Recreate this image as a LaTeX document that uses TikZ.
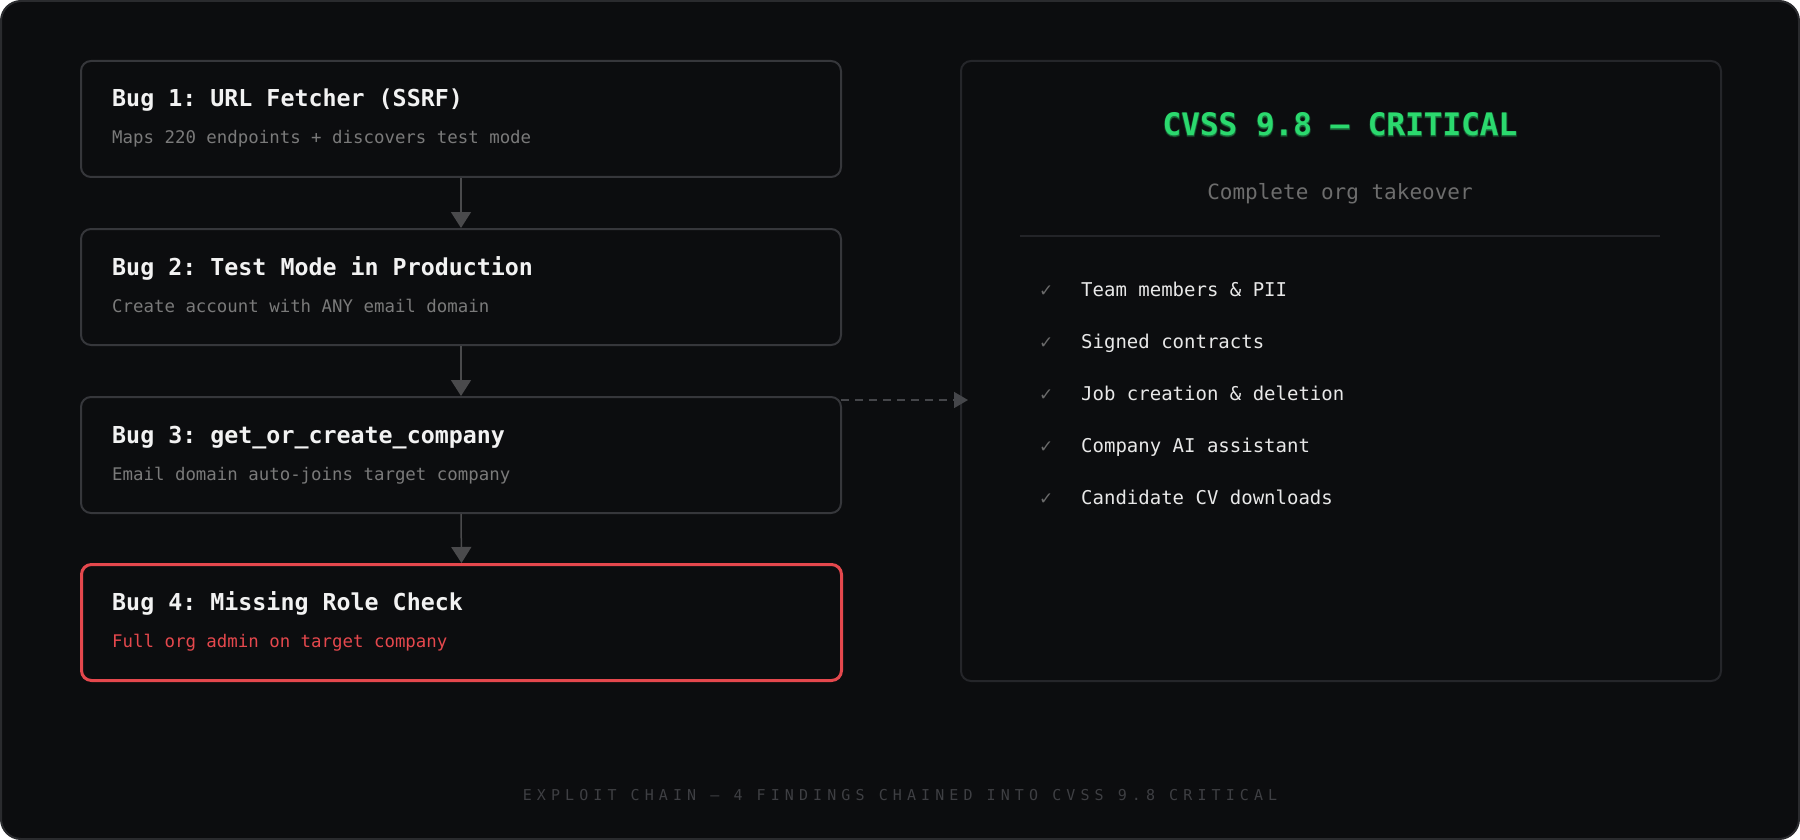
\documentclass[tikz,border=0pt]{standalone}
\usepackage{fontspec}
\setmonofont{DejaVu Sans Mono}
\newfontfamily\symfont{DejaVu Sans}
\usetikzlibrary{arrows.meta}
\definecolor{bgc}{HTML}{0C0D0F}
\definecolor{framec}{HTML}{2A2B2E}
\definecolor{boxc}{HTML}{36373B}
\definecolor{panelc}{HTML}{25262A}
\definecolor{titlec}{HTML}{F2F2F2}
\definecolor{subc}{HTML}{7A7A7A}
\definecolor{redc}{HTML}{E5484D}
\definecolor{greenc}{HTML}{2BD96E}
\definecolor{itemc}{HTML}{E8E8E8}
\definecolor{checkc}{HTML}{6A6A6A}
\definecolor{arrowc}{HTML}{4A4A4C}
\definecolor{dashc}{HTML}{45464A}
\definecolor{footc}{HTML}{3E3F43}
\definecolor{sepc}{HTML}{232428}
\begin{document}
\begin{tikzpicture}[x=1pt,y=-1pt,
  bugbox/.style={draw=boxc, line width=2pt, fill=bgc, rounded corners=10pt, minimum width=760pt, minimum height=116pt, anchor=north west, inner sep=0pt},
  critbox/.style={bugbox, draw=redc, line width=3pt},
  bugtitle/.style={anchor=base west, inner sep=0pt, text=titlec, font=\ttfamily\bfseries\fontsize{23.3}{28}\selectfont},
  bugsub/.style={anchor=base west, inner sep=0pt, text=subc, font=\ttfamily\fontsize{17.4}{20}\selectfont},
  itemtxt/.style={anchor=base west, inner sep=0pt, text=itemc, font=\ttfamily\fontsize{19}{23}\selectfont},
  checktxt/.style={anchor=base west, inner sep=0pt, text=checkc, font=\symfont\fontsize{17}{20}\selectfont},
  chainarrow/.style={draw=arrowc, line width=1.5pt, -{Triangle[width=20pt,length=16pt]}},
  crittitle/.style={anchor=base, inner sep=0pt, text=greenc, font=\ttfamily\bfseries\fontsize{31}{36}\selectfont}
]
\useasboundingbox (0,0) rectangle (1800,840);
\fill[white] (0,0) rectangle (1800,840);
\draw[draw=framec, fill=bgc, line width=2pt, rounded corners=20pt] (1,1) rectangle (1799,839);

% bug boxes
\node[bugbox] (b1) at (80,60) {};
\node[bugbox] (b2) at (80,228) {};
\node[bugbox] (b3) at (80,396) {};
\node[critbox] (b4) at (80,563) {};

\node[bugtitle] (t1) at (112,107) {Bug 1: URL Fetcher (SSRF)};
\node[bugsub] (s1) at (112,144) {Maps 220 endpoints + discovers test mode};
\node[bugtitle] (t2) at (112,275) {Bug 2: Test Mode in Production};
\node[bugsub] (s2) at (112,312) {Create account with ANY email domain};
\node[bugtitle] (t3) at (112,443) {Bug 3: get\_or\_create\_company};
\node[bugsub] (s3) at (112,480) {Email domain auto-joins target company};
\node[bugtitle] (t4) at (112,610) {Bug 4: Missing Role Check};
\node[bugsub, text=redc] (s4) at (112,647) {Full org admin on target company};

\draw[chainarrow] (b1.south) -- (b2.north);
\draw[chainarrow] (b2.south) -- (b3.north);
\draw[chainarrow] (b3.south) -- (b4.north);

% result panel
\node[draw=panelc, line width=2pt, fill=bgc, rounded corners=10pt, minimum width=760pt, minimum height=620pt, anchor=north west, inner sep=0pt] (panel) at (960,60) {};

\coordinate (dstart) at (841,400);
\coordinate (dend) at (968,400);
\draw[draw=dashc, line width=1.5pt, dash pattern=on 8pt off 6pt, -{Triangle[width=16pt,length=14pt,fill=dashc]}] (dstart) -- (dend);

% glowing title
\node[crittitle, opacity=0.12, font=\ttfamily\bfseries\fontsize{31}{36}\selectfont\addfontfeature{FakeBold=7}] (glow1) at (1340,136) {CVSS 9.8 — CRITICAL};
\node[crittitle, opacity=0.22, font=\ttfamily\bfseries\fontsize{31}{36}\selectfont\addfontfeature{FakeBold=3.5}] (glow2) at (1340,136) {CVSS 9.8 — CRITICAL};
\node[crittitle] (ctitle) at (1340,136) {CVSS 9.8 — CRITICAL};
\node[anchor=base, inner sep=0pt, text=subc!110, font=\ttfamily\fontsize{21}{24}\selectfont] (csub) at (1340,200) {Complete org takeover};
\coordinate (sepL) at (1020,236);
\coordinate (sepR) at (1660,236);
\draw[draw=sepc, line width=2pt] (sepL) -- (sepR);

\node[checktxt] (c1) at (1039,296) {✓};
\node[itemtxt] (i1) at (1081,296) {Team members \& PII};
\node[checktxt] (c2) at (1039,348) {✓};
\node[itemtxt] (i2) at (1081,348) {Signed contracts};
\node[checktxt] (c3) at (1039,400) {✓};
\node[itemtxt] (i3) at (1081,400) {Job creation \& deletion};
\node[checktxt] (c4) at (1039,452) {✓};
\node[itemtxt] (i4) at (1081,452) {Company AI assistant};
\node[checktxt] (c5) at (1039,504) {✓};
\node[itemtxt] (i5) at (1081,504) {Candidate CV downloads};

% footer
\node[anchor=base, inner sep=0pt, text=footc, font=\ttfamily\fontsize{15}{18}\selectfont\addfontfeature{LetterSpace=34}] (foot) at (900,800) {EXPLOIT CHAIN — 4 FINDINGS CHAINED INTO CVSS 9.8 CRITICAL};
\end{tikzpicture}
\end{document}
